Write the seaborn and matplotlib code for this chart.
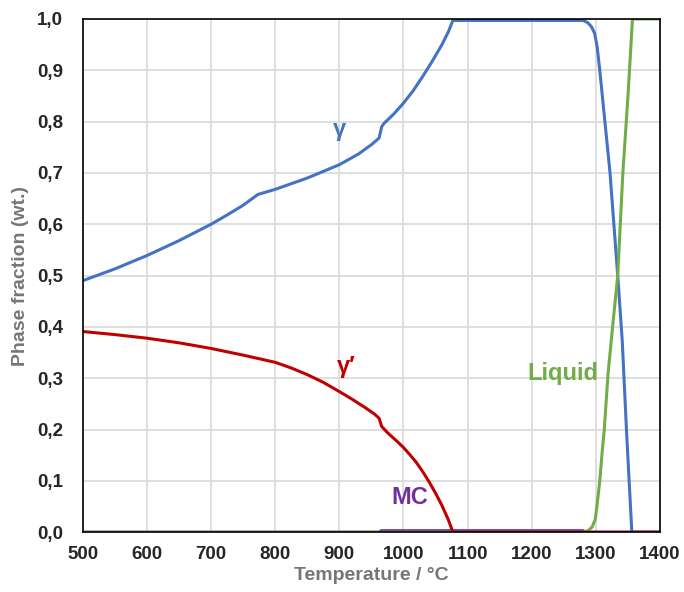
import numpy as np
import pandas as pd
import matplotlib
matplotlib.use("Agg")
import matplotlib.pyplot as plt
import seaborn as sns
from matplotlib.ticker import FuncFormatter, MultipleLocator

# --- data ---
gamma_T = [500, 550, 600, 650, 700, 725, 750, 773, 800, 850, 900, 930, 950, 962, 966, 970, 985, 1000, 1015, 1030, 1045,
           1060, 1070, 1077, 1200, 1280, 1287, 1293, 1298, 1302, 1306, 1310, 1314, 1318, 1322, 1328, 1334, 1341, 1348,
           1356, 1400]
gamma_f = [0.490, 0.513, 0.539, 0.568, 0.600, 0.618, 0.637, 0.658, 0.668, 0.690, 0.716, 0.737, 0.755, 0.768, 0.790,
           0.797, 0.815, 0.836, 0.860, 0.888, 0.918, 0.950, 0.975, 0.997, 0.997, 0.997, 0.993, 0.985, 0.972, 0.945,
           0.900, 0.850, 0.800, 0.750, 0.700, 0.600, 0.500, 0.374, 0.190, 0.0, 0.0]

gp_T = [500, 550, 600, 650, 700, 750, 800, 825, 850, 875, 900, 920, 940, 955, 962, 966, 975, 990, 1000, 1010, 1020,
        1030, 1040, 1050, 1060, 1070, 1077, 1400]
gp_f = [0.391, 0.385, 0.378, 0.369, 0.358, 0.345, 0.331, 0.320, 0.307, 0.292, 0.274, 0.259, 0.243, 0.230, 0.222,
        0.206, 0.194, 0.177, 0.165, 0.151, 0.136, 0.118, 0.098, 0.076, 0.052, 0.024, 0.0, 0.0]

liq_T = [500, 1280, 1288, 1294, 1299, 1302, 1306, 1310, 1313, 1319, 1326, 1334, 1342, 1350, 1357, 1400]
liq_f = [0.0, 0.0, 0.003, 0.010, 0.025, 0.055, 0.100, 0.160, 0.200, 0.310, 0.400, 0.500, 0.700, 0.850, 1.0, 1.0]

mc_T = [500, 962, 965, 1280, 1284, 1400]
mc_f = [0.0, 0.0, 0.003, 0.003, 0.0, 0.0]

labels = ["γ", "γ′", "MC", "Liquid"]
colors = ["#4472C4", "#C00000", "#7030A0", "#70AD47"]

frames = []
for name, T, f in [("γ", gamma_T, gamma_f), ("γ′", gp_T, gp_f), ("MC", mc_T, mc_f), ("Liquid", liq_T, liq_f)]:
    frames.append(pd.DataFrame({"T": T, "f": f, "phase": name}))
df = pd.concat(frames, ignore_index=True)

sns.set_style("white")
plt.rcParams["font.family"] = ["Liberation Sans", "DejaVu Sans"]

fig = plt.figure(figsize=(6.84, 5.92), dpi=100)
ax = fig.add_axes([0.121, 0.101, 0.844, 0.867])

order = ["MC", "γ", "Liquid", "γ′"]
pal = dict(zip(labels, colors))
for ph in order:
    sub = df[df.phase == ph]
    sns.lineplot(data=sub, x="T", y="f", color=pal[ph], linewidth=2.2, ax=ax,
                 sort=False, estimator=None, legend=False)

ax.set_xlim(500, 1400)
ax.set_ylim(0, 1.0)
ax.xaxis.set_major_locator(MultipleLocator(100))
ax.yaxis.set_major_locator(MultipleLocator(0.1))
ax.yaxis.set_major_formatter(FuncFormatter(lambda v, p: f"{v:.1f}".replace(".", ",")))
ax.grid(True, color="#D9D9D9", linewidth=1.2)
ax.set_axisbelow(True)
for s in ax.spines.values():
    s.set_visible(True)
    s.set_color("#000000")
    s.set_linewidth(1.2)
ax.tick_params(axis="y", length=0, pad=14, labelsize=13.5)
ax.tick_params(axis="x", length=0, pad=10, labelsize=13.5)
for lab in ax.get_xticklabels() + ax.get_yticklabels():
    lab.set_fontweight("bold")

ax.set_xlabel("Temperature / °C", fontsize=14, fontweight="bold", color="#767676", labelpad=3)
ax.set_ylabel("Phase fraction (wt.)", fontsize=14, fontweight="bold", color="#767676", labelpad=6)

ax.text(900, 0.785, "γ", color=pal["γ"], fontsize=17, fontweight="bold", ha="center", va="center")
ax.text(910, 0.322, "γ′", color=pal["γ′"], fontsize=17, fontweight="bold", ha="center", va="center")
ax.text(1010, 0.068, "MC", color=pal["MC"], fontsize=17, fontweight="bold", ha="center", va="center")
ax.text(1248, 0.31, "Liquid", color=pal["Liquid"], fontsize=17, fontweight="bold", ha="center", va="center")

fig.savefig("out.png", dpi=100)
